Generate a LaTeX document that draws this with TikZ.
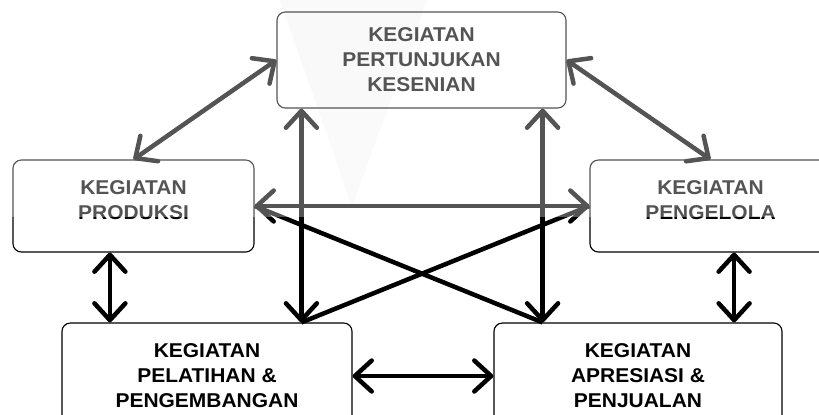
\documentclass[tikz,border=0pt]{standalone}
\usepackage{fontspec}
\setmainfont{Liberation Sans}[FakeStretch=1.05]
\usetikzlibrary{arrows.meta}

\begin{document}
\begin{tikzpicture}[x=0.025cm, y=-0.025cm,
          kbx/.style={rectangle, rounded corners=6pt, draw=black, line width=0.8pt,
                      fill=white, align=center,
                      font=\fontsize{14.2}{17.8}\selectfont\bfseries},
          ktxt/.style={align=center, font=\fontsize{14.2}{17.8}\selectfont\bfseries},
          ln/.style={draw=black, line width=3.2pt},
          arr/.style={ln, {Straight Barb[length=12pt, width=22pt, round]}-{Straight Barb[length=12pt, width=22pt, round]}}
        ]
        \useasboundingbox (0,0) rectangle (819,414);
        \clip (0,0) rectangle (819,414);

        % Top
        \node[kbx, minimum width=7.225cm, minimum height=2.4cm]
              (seni) at (421.5,60) {KEGIATAN\\PERTUNJUKAN\\KESENIAN};

        % Middle row
        \node[kbx, minimum width=6.025cm, minimum height=2.3cm,
              label={[ktxt, yshift=0.15cm]center:{KEGIATAN\\PRODUKSI}}]
              (prod) at (133.5,206) {};
        \node[kbx, minimum width=6.025cm, minimum height=2.3cm,
              label={[ktxt, yshift=0.15cm]center:{KEGIATAN\\PENGELOLA}}]
              (kelola) at (710.5,206) {};

        % Bottom row
        \node[kbx, minimum width=7.25cm, minimum height=2.65cm]
              (latih) at (207,376) {KEGIATAN\\PELATIHAN \&\\PENGEMBANGAN};
        \node[kbx, minimum width=7.2cm, minimum height=2.65cm]
              (jual) at (638,376) {KEGIATAN\\APRESIASI \&\\PENJUALAN};

        % watermark
        \fill[black, opacity=0.03] (280,0) -- (352,207) -- (427,0) -- cycle;

        \coordinate (vl) at ([xshift=0.625cm]seni.south west |- latih.north);
        \coordinate (vr) at ([xshift=-0.6cm]seni.south east |- jual.north);

        % top to middle
        \draw[arr] (seni.west) -- (prod.north);
        \draw[arr] (seni.east) -- (kelola.north);
        % top to bottom
        \draw[arr] ([xshift=0.625cm]seni.south west) -- (vl);
        \draw[arr] ([xshift=-0.6cm]seni.south east) -- (vr);
        % middle
        \draw[arr] (prod.east) -- (kelola.west);
        \draw[ln] (prod.east) -- (vr);
        \draw[ln] (vl) -- (kelola.west);
        % middle to bottom
        \draw[arr] ([xshift=-0.59cm]prod.south) -- ([xshift=-0.59cm]prod.south |- latih.north);
        \draw[arr] ([xshift=0.59cm]kelola.south) -- ([xshift=0.59cm]kelola.south |- jual.north);
        % bottom
        \draw[arr] (latih.east) -- (jual.west);

        % light upper part
        \fill[white, opacity=0.33] (0,0) rectangle (819,217);
      \end{tikzpicture}
\end{document}
